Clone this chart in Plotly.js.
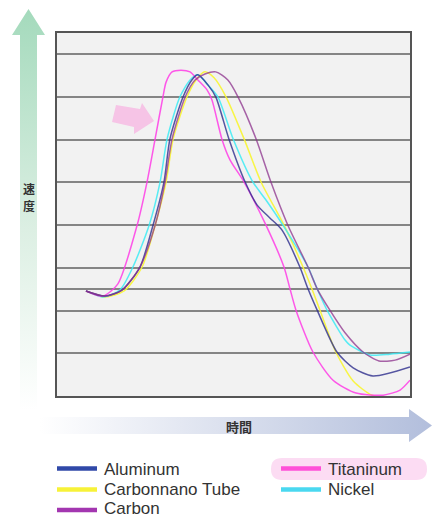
<!DOCTYPE html>
<html>
<head>
<meta charset="utf-8">
<script src="https://cdn.plot.ly/plotly-3.0.1.min.js"></script>
<style>
html,body{margin:0;padding:0;background:#fff;}
#chart{width:432px;height:518px;}
</style>
</head>
<body>
<div id="chart"></div>
<script>
// ---- data (time, speed) ----
const seriesNames = ["Aluminum", "Carbonnano Tube", "Carbon", "Titaninum", "Nickel"];

const timeAluminum  = [8.2,13.6,18.4,23.5,27.2,30.3,32.0,35.7,38.2,39.9,42.8,45.0,48.7,53.3,56.7,60.3,63.7,68.8,71.1,73.7,79.3,83.9,89.5,100];
const speedAluminum = [2.46,2.34,2.48,3.02,4.00,5.01,6.02,7.00,7.40,7.52,7.28,7.00,6.02,5.01,4.47,4.17,3.89,3.02,2.51,2.01,1.03,0.66,0.47,0.68];

const timeCarbonnano  = [8.2,13.6,19.0,24.1,27.8,30.9,32.9,36.8,39.4,41.9,44.5,47.9,53.0,57.8,64.3,69.7,72.2,74.5,79.0,83.9,89.2,94.3,100];
const speedCarbonnano = [2.46,2.32,2.46,3.02,4.00,5.01,6.02,7.00,7.40,7.59,7.45,7.00,6.02,5.01,4.00,3.02,2.51,2.01,1.03,0.35,0.02,-0.05,-0.05];

const timeCarbon  = [8.2,13.6,18.4,23.5,27.8,30.6,32.6,36.3,39.1,41.9,45.0,48.4,51.3,56.4,60.6,65.4,71.1,73.7,77.3,81.6,86.7,91.2,95.8,100];
const speedCarbon = [2.46,2.34,2.48,3.02,4.00,5.01,6.02,7.00,7.40,7.54,7.59,7.40,7.00,6.02,5.01,4.00,3.02,2.51,2.01,1.48,1.03,0.82,0.84,0.98];

const timeTitaninum  = [8.2,13.0,17.2,22.7,25.5,27.8,30.0,30.9,32.6,35.1,37.7,39.9,42.5,43.9,46.7,49.0,53.0,59.2,64.3,66.0,67.7,72.5,78.2,84.7,92.4,97.2,100];
const speedTitaninum = [2.46,2.34,2.62,4.00,5.01,6.02,7.00,7.35,7.59,7.63,7.59,7.40,7.17,6.93,6.02,5.53,5.01,4.00,3.02,2.51,2.01,1.03,0.37,0.07,0.02,0.14,0.37];

const timeNickel  = [8.2,13.0,17.8,21.5,26.1,29.2,31.2,34.8,37.7,39.9,42.8,45.6,49.9,55.5,59.2,64.0,71.1,73.7,76.5,81.6,83.0,88.7,94.3,100];
const speedNickel = [2.46,2.32,2.48,3.02,4.00,5.01,6.02,7.00,7.40,7.52,7.28,7.00,6.02,5.01,4.59,4.00,3.02,2.51,2.01,1.31,1.19,0.96,0.98,1.03];

const gridValues = [1,2,2.5,3,4,5,6,7,8];
const yAxisLabel = "速度";
const xAxisLabel = "時間";

// ---- styles ----
const lineColors   = ["rgba(45,45,140,0.8)","rgba(248,245,50,0.9)","rgba(140,50,140,0.75)","rgba(255,60,230,0.85)","rgba(60,235,245,0.85)"];
const legendColors = ["#3049a8","#f7f238","#a336b0","#ff50d8","#4ad8f0"];

const X = [timeAluminum,timeCarbonnano,timeCarbon,timeTitaninum,timeNickel];
const Y = [speedAluminum,speedCarbonnano,speedCarbon,speedTitaninum,speedNickel];
const drawOrder = [1,4,3,0,2];

const traces = drawOrder.map(i => ({
  type:"scatter", mode:"lines", name:seriesNames[i],
  x:X[i], y:Y[i],
  line:{color:lineColors[i], width:1.5, shape:"spline", smoothing:0.7},
  showlegend:false, hoverinfo:"skip"
}));

// pixel -> paper helpers (plot area 57..410 x 33..396)
const L=57, R=410, T=33, B=396;
const px = v => (v-L)/(R-L);
const py = v => (B-v)/(B-T);
function path(pts){ return pts.map((p,k)=>(k?"L":"M")+px(p[0])+","+py(p[1])).join(" ")+" Z"; }

const shapes = [];
// pink pointer arrow
shapes.push({type:"path", xref:"paper", yref:"paper", layer:"above",
  path:path([[116,105],[140,109],[142,103],[154,121],[134,134],[134,127],[112,122]]),
  fillcolor:"#f6c4e6", line:{width:0}});
// highlight behind "Titaninum"
(function(){
  const x0=271,x1=427,y0=458,y1=480,r=11;
  const P=(a,b)=>px(a)+","+py(b);
  const d="M"+P(x0+r,y0)+" L"+P(x1-r,y0)+" Q"+P(x1,y0)+" "+P(x1,(y0+y1)/2)+" Q"+P(x1,y1)+" "+P(x1-r,y1)+
          " L"+P(x0+r,y1)+" Q"+P(x0,y1)+" "+P(x0,(y0+y1)/2)+" Q"+P(x0,y0)+" "+P(x0+r,y0)+" Z";
  shapes.push({type:"path", xref:"paper", yref:"paper", layer:"below", path:d, fillcolor:"#fcdcf3", line:{width:0}});
})();

// manual legend: two columns  [line x, line y, text y]
const legendPos = [[57,468.5,469],[57,489.5,489],[57,510,508.5],[281,468.5,469],[281,489.5,489]];
const annotations = [];
seriesNames.forEach((n,i)=>{
  const [lx,ly,ty] = legendPos[i];
  shapes.push({type:"line", xref:"paper", yref:"paper", layer:"above",
    x0:px(lx), x1:px(lx+40), y0:py(ly), y1:py(ly), line:{color:legendColors[i], width:4.5}});
  annotations.push({xref:"paper", yref:"paper", x:px(lx+46), y:py(ty), xanchor:"left", yanchor:"middle",
    text:n, showarrow:false, borderpad:0,
    font:{family:"Liberation Sans, Arial, sans-serif", size:17, color:"#333"}});
});
yAxisLabel.split("").forEach((ch,k)=>{
  annotations.push({xref:"paper", yref:"paper", x:px(29), y:py(188+k*17.5), xanchor:"center", yanchor:"middle",
    text:"<b>"+ch+"</b>", showarrow:false, borderpad:0,
    font:{family:"Noto Sans CJK JP, sans-serif", size:12, color:"#333"}});
});
annotations.push({xref:"paper", yref:"paper", x:px(239), y:py(426), xanchor:"center", yanchor:"middle",
  text:"<b>"+xAxisLabel+"</b>", showarrow:false, borderpad:0,
  font:{family:"Noto Sans CJK JP, sans-serif", size:13, color:"#333"}});

// gradient arrows as svg images
function svgURI(w,h,grad,poly){
  const s = '<svg xmlns="http://www.w3.org/2000/svg" width="'+w+'" height="'+h+'" viewBox="0 0 '+w+' '+h+'" preserveAspectRatio="none">'+
    '<defs>'+grad+'</defs><polygon points="'+poly+'" fill="url(#g)"/></svg>';
  return "data:image/svg+xml;charset=utf-8,"+encodeURIComponent(s);
}
const vGrad = '<linearGradient id="g" x1="0" y1="0" x2="0" y2="1"><stop offset="0" stop-color="#a4dabc"/><stop offset="0.55" stop-color="#dcefe3"/><stop offset="1" stop-color="#ffffff"/></linearGradient>';
const hGrad = '<linearGradient id="g" x1="0" y1="0" x2="1" y2="0"><stop offset="0" stop-color="#ffffff"/><stop offset="0.45" stop-color="#dde2ef"/><stop offset="1" stop-color="#b2bedc"/></linearGradient>';
const images = [
  {source:svgURI(38,405,vGrad,"18.5,4 2,30 10,30 10,405 27,405 27,30 35,30"),
   xref:"paper", yref:"paper", x:px(10), y:py(5), sizex:38/(R-L), sizey:405/(B-T),
   xanchor:"left", yanchor:"top", sizing:"stretch", layer:"below"},
  {source:svgURI(394,37,hGrad,"0,10 369,10 369,2 392,18.5 369,35 369,27 0,27"),
   xref:"paper", yref:"paper", x:px(40), y:py(407), sizex:394/(R-L), sizey:37/(B-T),
   xanchor:"left", yanchor:"top", sizing:"stretch", layer:"below"}
];

const layout = {
  width:432, height:518,
  margin:{l:L, r:432-R, t:T, b:518-B, pad:0},
  paper_bgcolor:"#ffffff", plot_bgcolor:"#f2f2f2",
  showlegend:false,
  xaxis:{range:[0,100], showgrid:false, zeroline:false, showticklabels:false, ticks:"",
         showline:true, mirror:true, linecolor:"#555", linewidth:2, fixedrange:true},
  yaxis:{range:[0,8.5], tickmode:"array", tickvals:gridValues, showticklabels:false, ticks:"",
         showgrid:true, gridcolor:"#858585", gridwidth:2, zeroline:false,
         showline:true, mirror:true, linecolor:"#555", linewidth:2, fixedrange:true},
  shapes:shapes, annotations:annotations, images:images
};

Plotly.newPlot("chart", traces, layout, {staticPlot:true, displayModeBar:false});
</script>
</body>
</html>
